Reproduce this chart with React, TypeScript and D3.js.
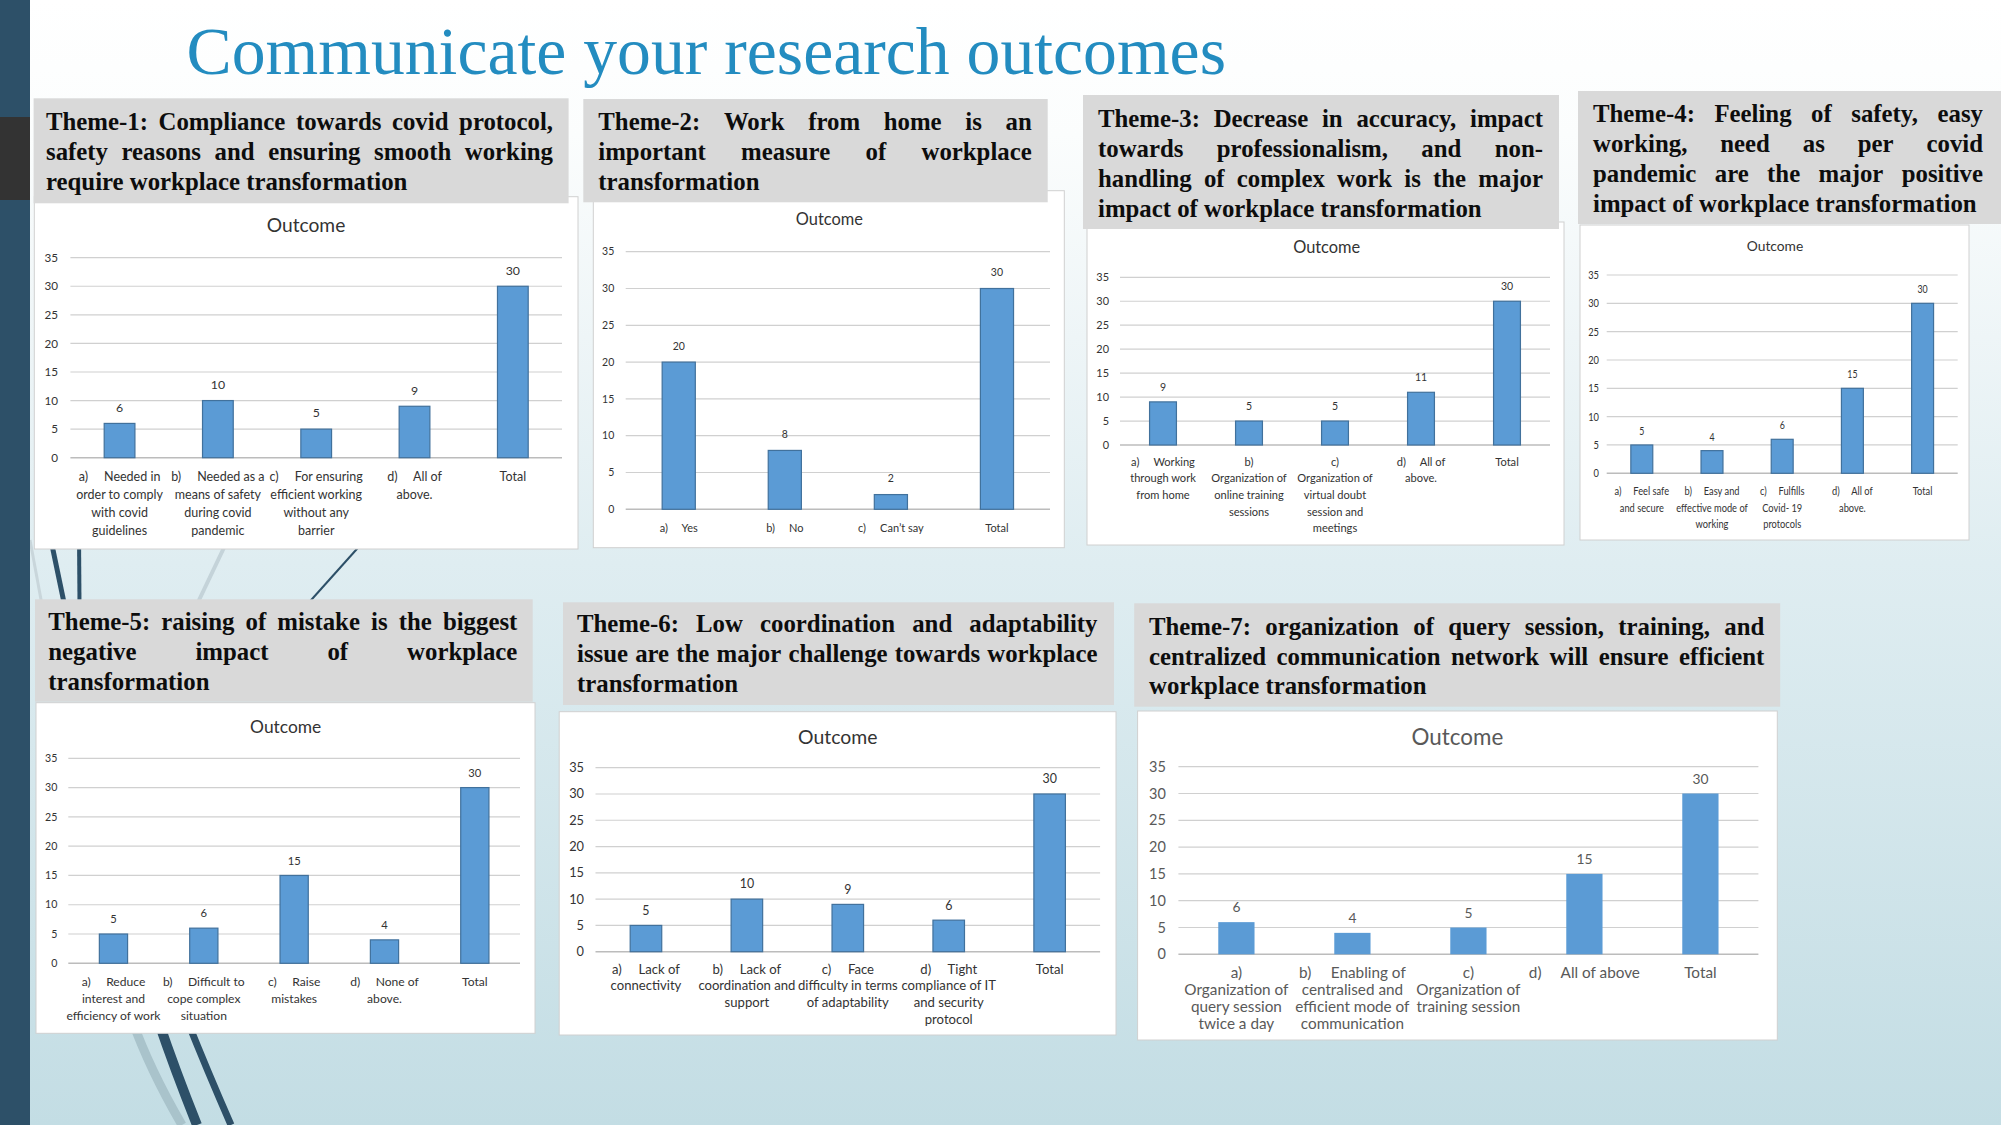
import React from 'react';
import * as d3 from 'd3';

// ---------------- data ----------------
const SLIDE_TITLE = 'Communicate your research outcomes';
const CHART_TITLE = 'Outcome';
const Y_TICKS = [0, 5, 10, 15, 20, 25, 30, 35];
const Y_MAX = 35;

const THEME1_HEADING = [
  'Theme-1: Compliance towards covid protocol,',
  'safety reasons and ensuring smooth working',
  'require workplace transformation',
];
const THEME1_CATEGORIES = [
  ['a)     Needed in', 'order to comply', 'with covid', 'guidelines'],
  ['b)     Needed as a', 'means of safety', 'during covid', 'pandemic'],
  ['c)     For ensuring', 'efficient working', 'without any', 'barrier'],
  ['d)     All of', 'above.'],
  ['Total'],
];
const THEME1_VALUES = [6, 10, 5, 9, 30];

const THEME2_HEADING = [
  'Theme-2: Work from home is an',
  'important measure of workplace',
  'transformation',
];
const THEME2_CATEGORIES = [['a)     Yes'], ['b)     No'], ['c)     Can\u2019t say'], ['Total']];
const THEME2_VALUES = [20, 8, 2, 30];

const THEME3_HEADING = [
  'Theme-3: Decrease in accuracy, impact',
  'towards professionalism, and non-',
  'handling of complex work is the major',
  'impact of workplace transformation',
];
const THEME3_CATEGORIES = [
  ['a)     Working', 'through work', 'from home'],
  ['b)', 'Organization of', 'online training', 'sessions'],
  ['c)', 'Organization of', 'virtual doubt', 'session and', 'meetings'],
  ['d)     All of', 'above.'],
  ['Total'],
];
const THEME3_VALUES = [9, 5, 5, 11, 30];

const THEME4_HEADING = [
  'Theme-4: Feeling of safety, easy',
  'working, need as per covid',
  'pandemic are the major positive',
  'impact of workplace transformation',
];
const THEME4_CATEGORIES = [
  ['a)     Feel safe', 'and secure'],
  ['b)     Easy and', 'effective mode of', 'working'],
  ['c)     Fulfills', 'Covid- 19', 'protocols'],
  ['d)     All of', 'above.'],
  ['Total'],
];
const THEME4_VALUES = [5, 4, 6, 15, 30];

const THEME5_HEADING = [
  'Theme-5: raising of mistake is the biggest',
  'negative impact of workplace',
  'transformation',
];
const THEME5_CATEGORIES = [
  ['a)     Reduce', 'interest and', 'efficiency of work'],
  ['b)     Difficult to', 'cope complex', 'situation'],
  ['c)     Raise', 'mistakes'],
  ['d)     None of', 'above.'],
  ['Total'],
];
const THEME5_VALUES = [5, 6, 15, 4, 30];

const THEME6_HEADING = [
  'Theme-6: Low coordination and adaptability',
  'issue are the major challenge towards workplace',
  'transformation',
];
const THEME6_CATEGORIES = [
  ['a)     Lack of', 'connectivity'],
  ['b)     Lack of', 'coordination and', 'support'],
  ['c)     Face', 'difficulty in terms', 'of adaptability'],
  ['d)     Tight', 'compliance of IT', 'and security', 'protocol'],
  ['Total'],
];
const THEME6_VALUES = [5, 10, 9, 6, 30];

const THEME7_HEADING = [
  'Theme-7: organization of query session, training, and',
  'centralized communication network will ensure efficient',
  'workplace transformation',
];
const THEME7_CATEGORIES = [
  ['a)', 'Organization of', 'query session', 'twice a day'],
  ['b)     Enabling of', 'centralised and', 'efficient mode of', 'communication'],
  ['c)', 'Organization of', 'training session'],
  ['d)     All of above'],
  ['Total'],
];
const THEME7_VALUES = [6, 4, 5, 15, 30];

// ---------------- layout ----------------
type Layout = {
  hx: number; hy: number; hw: number; hh: number; tx: number; tw: number; tb: number; tlh: number;
  bx: number; by: number; bw: number; bh: number;
  cx: number; cy: number; cs: number;
  x0: number; x1: number; y35: number; y0: number; tickX: number; tickSize: number;
  ly: number; llh: number; ls: number;
  vs: number; voff: number; sx: number;
  textColor: string; stroke: string | null;
};

const L1: Layout = { hx: 33.6, hy: 98.3, hw: 535, hh: 105, tx: 46, tw: 507, tb: 130, tlh: 30,
  bx: 34.3, by: 196.7, bw: 543.7, bh: 352.3, cx: 306, cy: 225, cs: 19.2,
  x0: 70.4, x1: 562, y35: 257.7, y0: 457.7, tickX: 58, tickSize: 11.7,
  ly: 476.7, llh: 18, ls: 12.5, vs: 12.3, voff: 16, sx: 1, textColor: '#333', stroke: '#41719c' };
const L2: Layout = { hx: 583.3, hy: 99, hw: 464.4, hh: 103.3, tx: 598.3, tw: 433.4, tb: 130, tlh: 30,
  bx: 593.3, by: 190.7, bw: 471, bh: 357, cx: 829.3, cy: 219.3, cs: 16.4,
  x0: 625.7, x1: 1050, y35: 251.7, y0: 509.3, tickX: 614.3, tickSize: 10.5,
  ly: 528.3, llh: 18, ls: 11, vs: 10.5, voff: 16, sx: 1, textColor: '#333', stroke: '#41719c' };
const L3: Layout = { hx: 1083, hy: 95, hw: 476, hh: 134, tx: 1098, tw: 445, tb: 126.7, tlh: 30,
  bx: 1087, by: 222, bw: 477, bh: 323, cx: 1326.7, cy: 247, cs: 16.4,
  x0: 1120, x1: 1550, y35: 277.3, y0: 445, tickX: 1109, tickSize: 10.9,
  ly: 461.7, llh: 16.7, ls: 11.1, vs: 10.5, voff: 15, sx: 1, textColor: '#333', stroke: '#41719c' };
const L4: Layout = { hx: 1578, hy: 91, hw: 423, hh: 133, tx: 1593, tw: 390, tb: 121.7, tlh: 30,
  bx: 1580, by: 225, bw: 389, bh: 315, cx: 1775, cy: 246, cs: 13.8,
  x0: 1606.7, x1: 1957.7, y35: 275, y0: 473.3, tickX: 1599, tickSize: 11.6,
  ly: 491, llh: 16.7, ls: 11.6, vs: 11, voff: 14, sx: 0.8, textColor: '#333', stroke: '#41719c' };
const L5: Layout = { hx: 35, hy: 599.3, hw: 497.7, hh: 102.4, tx: 48.3, tw: 469, tb: 630, tlh: 30,
  bx: 36, by: 702.7, bw: 499, bh: 330.6, cx: 285.7, cy: 727.3, cs: 17.4,
  x0: 68.3, x1: 520, y35: 758.3, y0: 963.3, tickX: 57.3, tickSize: 10.6,
  ly: 981.7, llh: 17.2, ls: 12.1, vs: 11.2, voff: 14.6, sx: 1, textColor: '#333', stroke: '#41719c' };
const L6: Layout = { hx: 563, hy: 602.3, hw: 551, hh: 102.7, tx: 577, tw: 520.5, tb: 632.3, tlh: 30,
  bx: 559.2, by: 711.7, bw: 556.8, bh: 323.3, cx: 837.8, cy: 737.7, cs: 19.4,
  x0: 595.5, x1: 1100.1, y35: 767.7, y0: 951.7, tickX: 584, tickSize: 12.8,
  ly: 969, llh: 16.7, ls: 13.1, vs: 12.4, voff: 15, sx: 1, textColor: '#333', stroke: '#41719c' };
const L7: Layout = { hx: 1134.2, hy: 603.3, hw: 646, hh: 103.4, tx: 1149, tw: 615.3, tb: 635, tlh: 29.7,
  bx: 1137.6, by: 711, bw: 639.7, bh: 329, cx: 1457.4, cy: 736.7, cs: 22.4,
  x0: 1178.4, x1: 1758.4, y35: 766.7, y0: 954.3, tickX: 1165.8, tickSize: 14.5,
  ly: 972.3, llh: 17, ls: 15.3, vs: 13.8, voff: 14.7, sx: 1, textColor: '#595959', stroke: null };

const HEAD_FONT = '"Liberation Serif", "Times New Roman", serif';
const HEAD_SIZE = 24.8;
const CHART_FONT = 'Lato, "Noto Sans", sans-serif';

let measureCtx: CanvasRenderingContext2D | null = null;
function measure(text: string, font: string): number {
  if (!measureCtx) {
    const c = document.createElement('canvas');
    measureCtx = c.getContext('2d');
  }
  if (!measureCtx) return text.length * 12;
  measureCtx.font = font;
  return measureCtx.measureText(text).width;
}

const tf = (x: number, y: number, sx: number) => `translate(${x},${y}) scale(${sx},1)`;

function Heading({ lines, L }: { lines: string[]; L: Layout }) {
  const font = `bold ${HEAD_SIZE}px ${HEAD_FONT}`;
  const out: React.ReactNode[] = [];
  lines.forEach((line, i) => {
    const y = L.tb + i * L.tlh;
    const words = line.split(' ');
    const last = i === lines.length - 1;
    if (last || words.length === 1) {
      const nat = measure(line, font);
      if (nat > L.tw) {
        out.push(<text key={i} x={L.tx} y={y} textLength={L.tw} lengthAdjust="spacingAndGlyphs">{line}</text>);
      } else {
        out.push(<text key={i} x={L.tx} y={y}>{line}</text>);
      }
      return;
    }
    const widths = words.map((w) => measure(w, font));
    const total = d3.sum(widths);
    const gap = (L.tw - total) / (words.length - 1);
    if (gap < 3) {
      out.push(<text key={i} x={L.tx} y={y} textLength={L.tw} lengthAdjust="spacingAndGlyphs">{line}</text>);
      return;
    }
    let cx = L.tx;
    words.forEach((w, j) => {
      out.push(<text key={i + '-' + j} x={cx} y={y}>{w}</text>);
      cx += widths[j] + gap;
    });
  });
  return (
    <g>
      <rect x={L.hx} y={L.hy} width={L.hw} height={L.hh} fill="#d9d9d9" />
      <g fontFamily={HEAD_FONT} fontWeight="bold" fontSize={HEAD_SIZE} fill="#0d0d0d">{out}</g>
    </g>
  );
}

function BarPanel({ heading, categories, values, L }: { heading: string[]; categories: string[][]; values: number[]; L: Layout }) {
  const x = d3.scaleBand<number>().domain(d3.range(values.length)).range([L.x0, L.x1]).paddingInner(0.6875).paddingOuter(0.34375);
  const y = d3.scaleLinear().domain([0, Y_MAX]).range([L.y0, L.y35]);
  const bw = x.bandwidth();
  return (
    <g>
      <rect x={L.bx} y={L.by} width={L.bw} height={L.bh} fill="#ffffff" stroke="#d0d0d0" strokeWidth={1} />
      <g fontFamily={CHART_FONT} fill={L.textColor}>
        <text x={L.cx} y={L.cy} dy="0.35em" textAnchor="middle" fontSize={L.cs}>{CHART_TITLE}</text>
        {Y_TICKS.map((t) => (
          <g key={t}>
            <line x1={L.x0} x2={L.x1} y1={y(t)} y2={y(t)} stroke={t === 0 ? '#bcbcbc' : '#d0d0d0'} strokeWidth={t === 0 ? 1.5 : 1.2} />
            <text transform={tf(L.tickX, y(t), L.sx)} dy="0.35em" textAnchor="end" fontSize={L.tickSize}>{t}</text>
          </g>
        ))}
        {values.map((v, i) => (
          <g key={i}>
            <rect x={x(i)} y={y(v)} width={bw} height={y(0) - y(v)} fill="#5b9bd5"
              stroke={L.stroke || 'none'} strokeWidth={L.stroke ? 1.2 : 0} />
            <text transform={tf((x(i) as number) + bw / 2, y(v) - L.voff, L.sx)} dy="0.35em" textAnchor="middle" fontSize={L.vs}>{v}</text>
            {categories[i].map((ln, k) => (
              <text key={k} transform={tf((x(i) as number) + bw / 2, L.ly + k * L.llh, L.sx)} dy="0.35em" textAnchor="middle"
                fontSize={L.ls} style={{ whiteSpace: 'pre' }}>{ln}</text>
            ))}
          </g>
        ))}
      </g>
      <Heading lines={heading} L={L} />
    </g>
  );
}

export default function App() {
  return (
    <div style={{ position: 'absolute', left: 0, top: 0, width: 2001, height: 1125, overflow: 'hidden' }}>
      <svg width={2001} height={1125} style={{ display: 'block' }}>
        <defs>
          <linearGradient id="bg" x1="0" y1="0" x2="0" y2="1125" gradientUnits="userSpaceOnUse">
            <stop offset="0" stopColor="#ffffff" />
            <stop offset="0.12" stopColor="#fbfdfd" />
            <stop offset="0.3" stopColor="#eef5f7" />
            <stop offset="0.5" stopColor="#dfedf1" />
            <stop offset="1" stopColor="#c3dde4" />
          </linearGradient>
        </defs>
        <rect x={0} y={0} width={2001} height={1125} fill="url(#bg)" />
        {/* decorative swooshes */}
        <g fill="none" strokeLinecap="butt">
          <line x1={30} y1={540} x2={42} y2={605} stroke="#c9d6db" strokeWidth={3} />
          <line x1={49.9} y1={535} x2={64.5} y2={605} stroke="#2d5068" strokeWidth={5} />
          <line x1={79} y1={535} x2={79.5} y2={605} stroke="#2d5068" strokeWidth={4} />
          <line x1={230} y1={535} x2={196.7} y2={605} stroke="#c4d3d9" strokeWidth={4} />
          <line x1={369.4} y1={535} x2={306.7} y2={605} stroke="#2d5068" strokeWidth={2} />
          <path d="M132,1020 Q150,1070 182,1125" stroke="#a9c3cb" strokeWidth={9} />
          <path d="M158,1020 Q175,1070 197,1125" stroke="#2d5068" strokeWidth={10} />
          <path d="M187,1020 Q207,1070 231,1125" stroke="#2d5068" strokeWidth={7} />
        </g>
        {/* left strip */}
        <rect x={0} y={0} width={30} height={1125} fill="#2d5068" />
        <rect x={0} y={117} width={30} height={83} fill="#333333" />
        {/* slide title */}
        <text x={186.6} y={74} fontFamily={HEAD_FONT} fontSize={67.7} fill="#238cc0">{SLIDE_TITLE}</text>

        <BarPanel heading={THEME1_HEADING} categories={THEME1_CATEGORIES} values={THEME1_VALUES} L={L1} />
        <BarPanel heading={THEME2_HEADING} categories={THEME2_CATEGORIES} values={THEME2_VALUES} L={L2} />
        <BarPanel heading={THEME3_HEADING} categories={THEME3_CATEGORIES} values={THEME3_VALUES} L={L3} />
        <BarPanel heading={THEME4_HEADING} categories={THEME4_CATEGORIES} values={THEME4_VALUES} L={L4} />
        <BarPanel heading={THEME5_HEADING} categories={THEME5_CATEGORIES} values={THEME5_VALUES} L={L5} />
        <BarPanel heading={THEME6_HEADING} categories={THEME6_CATEGORIES} values={THEME6_VALUES} L={L6} />
        <BarPanel heading={THEME7_HEADING} categories={THEME7_CATEGORIES} values={THEME7_VALUES} L={L7} />
      </svg>
    </div>
  );
}
